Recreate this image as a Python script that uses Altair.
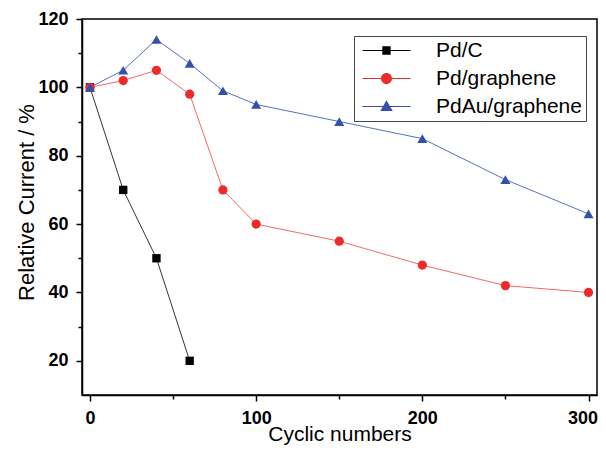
import altair as alt
import pandas as pd

series_names = ["Pd/C", "Pd/graphene", "PdAu/graphene"]
x_pdc = [0, 20, 40, 60]
y_pdc = [100, 70, 50, 20]
x_pdg = [0, 20, 40, 60, 80, 100, 150, 200, 250, 300]
y_pdg = [100, 102, 105, 98, 70, 60, 55, 48, 42, 40]
x_pdau = [0, 20, 40, 60, 80, 100, 150, 200, 250, 300]
y_pdau = [100, 105, 114, 107, 99, 95, 90, 85, 73, 63]

marker_colors = ["#000000", "#EE2A2A", "#3450A8"]
line_colors = ["#333333", "#F26A6A", "#5A6FBE"]
marker_shapes = ["square", "circle", "triangle-up"]
marker_sizes = [70, 100, 120]

y_major = [20, 40, 60, 80, 100, 120]
y_minor = [30, 50, 70, 90, 110]
x_major = [0, 100, 200, 300]
x_minor = [50, 150, 250]

rows = []
for name, xs, ys in zip(series_names, [x_pdc, x_pdg, x_pdau], [y_pdc, y_pdg, y_pdau]):
    for xv, yv in zip(xs, ys):
        rows.append({"series": name, "cycle": xv, "current": yv})
df = pd.DataFrame(rows)

FONT = "Liberation Sans"

xscale = alt.Scale(domain=[-4.8, 305.1], nice=False, zero=False)
yscale = alt.Scale(domain=[10, 120], nice=False, zero=False)

x_axis = alt.Axis(values=x_major, title="Cyclic numbers", tickSize=6, tickWidth=1.5,
                  tickColor="black", domainColor="black", domainWidth=1.5,
                  labelFont=FONT, labelFontSize=18, labelFontWeight="bold",
                  labelColor="black", labelPadding=8, labelFlush=False, labelOverlap=False,
                  labelOffset={"condition": {"test": "datum.value === 300", "value": -6},
                               "value": 0},
                  titleFont=FONT, titleFontSize=21, titleFontWeight="normal",
                  titleColor="black", titleBaseline="alphabetic", titleY=45, grid=False)
y_axis = alt.Axis(values=y_major, title="Relative Current / %", tickSize=6, tickWidth=1.5,
                  tickColor="black", domainColor="black", domainWidth=1.5,
                  labelFont=FONT, labelFontSize=18, labelFontWeight="bold",
                  labelColor="black", labelPadding=8, labelFlush=False, labelOverlap=False,
                  titleFont=FONT, titleFontSize=22, titleFontWeight="normal",
                  titleColor="black", titleBaseline="alphabetic", titleAngle=270,
                  titleAlign="center", titleX=-49, titleY=183, grid=False)

x_minor_axis = alt.Axis(values=x_minor, labels=False, title=None, tickSize=4, tickWidth=1.5,
                        tickColor="black", domain=False, grid=False, orient="bottom")
y_minor_axis = alt.Axis(values=y_minor, labels=False, title=None, tickSize=4, tickWidth=1.5,
                        tickColor="black", domain=False, grid=False, orient="left")

legend_paths = [
    "M-0.6,-0.05 L4.2,-0.05 L4.2,0.05 L-0.6,0.05 Z "
    "M1.38,-0.42 L2.22,-0.42 L2.22,0.42 L1.38,0.42 Z",
    "M-0.6,-0.05 L4.2,-0.05 L4.2,0.05 L-0.6,0.05 Z "
    "M1.25,0 A0.55,0.55 0 1,1 2.35,0 A0.55,0.55 0 1,1 1.25,0 Z",
    "M-0.6,-0.05 L4.2,-0.05 L4.2,0.05 L-0.6,0.05 Z "
    "M1.8,-0.62 L2.42,0.45 L1.18,0.45 Z",
]

legend = alt.Legend(
    orient="none", legendX=272, legendY=17, title=None,
    labelFont=FONT, labelFontSize=21, labelColor="black", labelFontWeight="normal",
    symbolSize=400, symbolStrokeWidth=0, symbolOpacity=1,
    padding=4, rowPadding=6, labelOffset=57,
    strokeColor="#444444", fillColor="white",
)

X = alt.X("cycle:Q", scale=xscale, axis=x_axis)
Y = alt.Y("current:Q", scale=yscale, axis=y_axis)

lines = alt.Chart(df).mark_line(strokeWidth=1).encode(
    x=X, y=Y,
    color=alt.Color("series:N", scale=alt.Scale(domain=series_names, range=line_colors),
                    legend=None),
)

points = alt.Chart(df).mark_point(filled=True, opacity=1, strokeWidth=0).encode(
    x=X, y=Y,
    color=alt.Color("series:N", scale=alt.Scale(domain=series_names, range=marker_colors),
                    legend=None),
    shape=alt.Shape("series:N", scale=alt.Scale(domain=series_names, range=marker_shapes),
                    legend=None),
    size=alt.Size("series:N", scale=alt.Scale(domain=series_names, range=marker_sizes),
                  legend=None),
)

legend_layer = alt.Chart(df).transform_filter(alt.datum.cycle < -1000).mark_point(
    filled=True, size=400, strokeWidth=0
).encode(
    x=X, y=Y,
    color=alt.Color("series:N", scale=alt.Scale(domain=series_names, range=marker_colors),
                    legend=legend),
    shape=alt.Shape("series:N", scale=alt.Scale(domain=series_names, range=legend_paths),
                    legend=legend),
)

main = alt.layer(lines, points, legend_layer).resolve_scale(
    color="independent", shape="independent", size="independent"
)

minor = alt.Chart(df).mark_point(opacity=0).encode(
    x=alt.X("cycle:Q", scale=xscale, axis=x_minor_axis),
    y=alt.Y("current:Q", scale=yscale, axis=y_minor_axis),
)

chart = alt.layer(main, minor).resolve_axis(x="independent", y="independent").properties(
    width=515, height=376,
    autosize=alt.AutoSizeParams(type="none"),
    padding={"left": 74, "top": 11, "right": 1, "bottom": 50},
    background="white",
).configure_view(stroke="black", strokeWidth=1.5)

chart.save("out.html", embed_options={"renderer": "svg", "actions": False})
